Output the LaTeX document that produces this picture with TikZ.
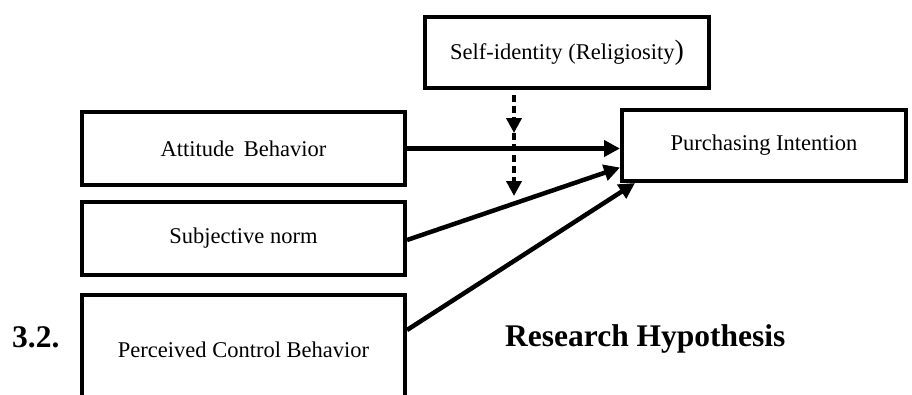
\documentclass[tikz,border=0pt]{standalone}
\usepackage{fontspec}
\setmainfont{Liberation Serif}
\usetikzlibrary{arrows.meta,calc}
\begin{document}
\begin{tikzpicture}[x=1pt,y=-1pt,
  box/.style={draw=black,line width=4pt,inner sep=0pt,outer sep=2pt,fill=white,font=\fontsize{22.5}{26}\selectfont},
  conn/.style={line width=4.5pt,-{Triangle[length=16pt,width=16pt]}},
  dconn/.style={line width=4.5pt,dash pattern=on 7pt off 4pt,-{Triangle[length=15pt,width=15pt]}},
  heading/.style={font=\fontsize{31.5}{36}\selectfont\bfseries,inner sep=0pt}]
\useasboundingbox (0,0) rectangle (912,394);
\clip (0,0) rectangle (912,394);
\node[box,minimum width=284pt,minimum height=71pt] (self) at (567,52.5) {Self-identity (Religiosity{\fontsize{28}{28}\selectfont)}};
\node[box,minimum width=284pt,minimum height=71pt] (pi) at (764,145.5) {Purchasing Intention};
\node[box,minimum width=323pt,minimum height=73pt] (att) at (243.5,148.5) {Attitude\, Behavior};
\node[box,minimum width=323pt,minimum height=73pt] (subj) at (243.5,238.5) {Subjective norm};
\node[box,minimum width=323pt,minimum height=110pt] (perc) at (243.5,350) {Perceived Control Behavior};
\node[heading,anchor=base west] (num) at (12,347) {3.2.};
\node[heading,anchor=base west] (rh) at (505,346) {Research Hypothesis};
\coordinate (sstart) at ($(subj.east)+(0,1.5)$);
\coordinate (send) at ($(pi.west)+(0,22)$);
\coordinate (pstart) at ($(perc.east)+(0,-20)$);
\coordinate (pend) at ($(pi.south west)+(15,0)$);
\coordinate (dtop) at ($(self.south)+(-53,5)$);
\coordinate (dmid) at ($(self.south)+(-53,43)$);
\coordinate (dend) at ($(self.south)+(-53,106)$);
\draw[conn] (att.east) -- (att.east -| pi.west);
\draw[conn] (sstart) -- (send);
\draw[conn] (pstart) -- (pend);
\draw[dconn] (dtop) -- (dmid);
\draw[dconn] (dmid) -- (dend);
\end{tikzpicture}
\end{document}
